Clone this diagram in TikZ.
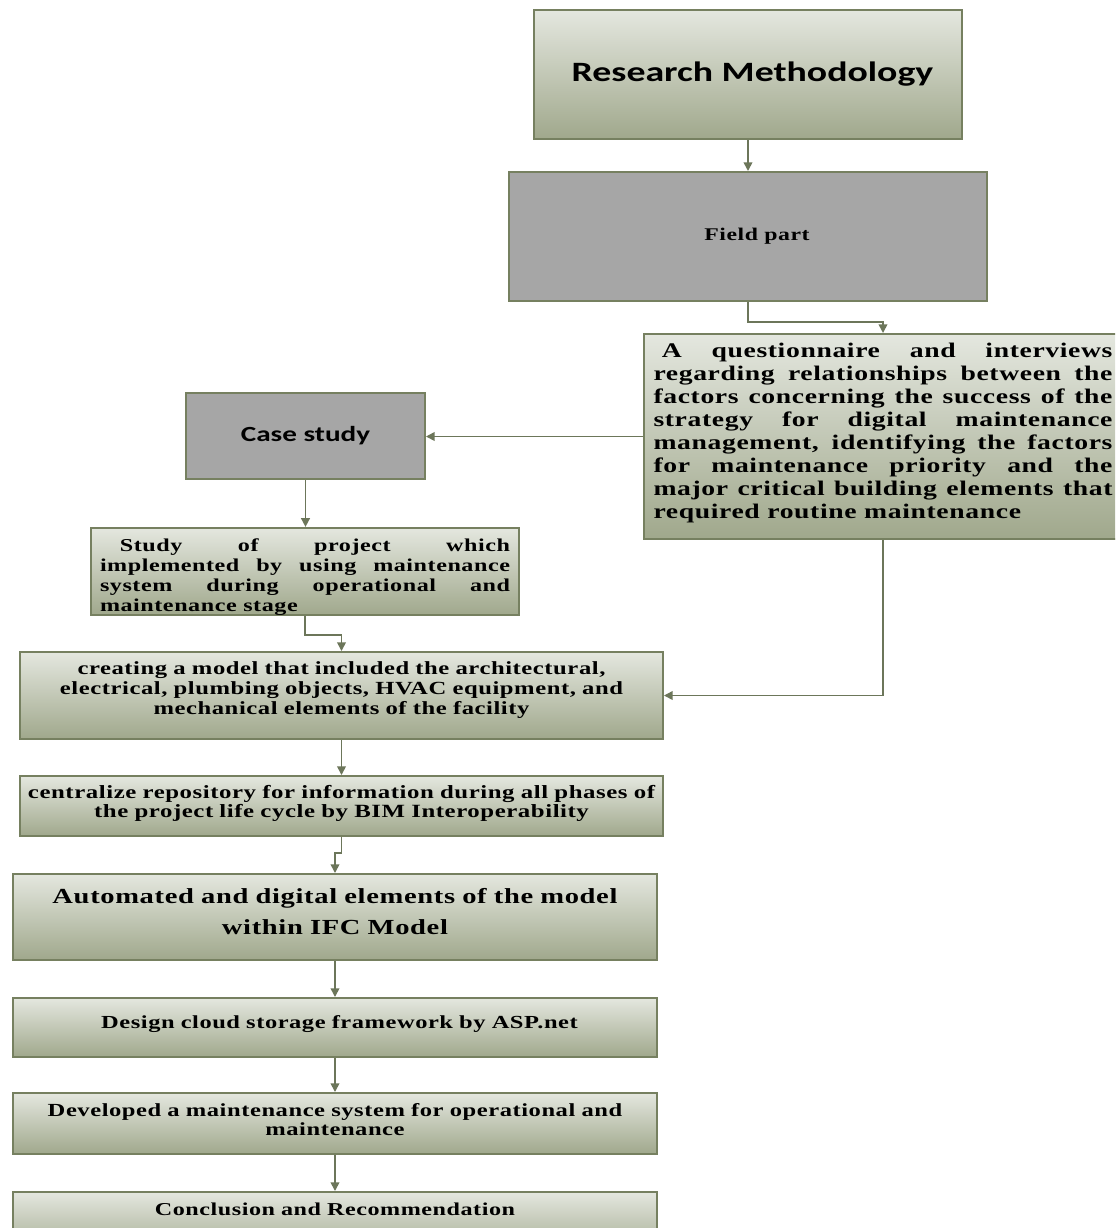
\documentclass[tikz,border=0pt]{standalone}
\usepackage{fontspec}
\setmainfont{Liberation Serif}[FakeStretch=1.33, LetterSpace=3]
\newfontfamily\titlesans{Carlito}[FakeStretch=1.35]
\usetikzlibrary{arrows.meta,calc}
\definecolor{bord}{RGB}{118,128,96}
\definecolor{arrc}{RGB}{108,118,90}
\definecolor{gtop}{RGB}{228,231,223}
\definecolor{gbot}{RGB}{160,168,140}
\definecolor{grayf}{RGB}{166,166,166}
\tikzset{
  x=0.75pt, y=-0.75pt,
  boxbase/.style={draw=bord, line width=1.5pt, inner sep=0pt, rectangle},
  gradbox/.style={boxbase, top color=gtop, bottom color=gbot},
  graybox/.style={boxbase, fill=grayf},
  arr/.style={draw=arrc, line width=1.2pt, -{Triangle[length=6.5pt,width=6.5pt]}},
}
% extra depth on the last line (lifts the text) / extra height on the first line (lowers it)
\newcommand{\deep}[1]{\rule[-#1]{0pt}{#1}}
\newcommand{\tall}[1]{\rule{0pt}{#1}}
\begin{document}
\begin{tikzpicture}
\clip (0,0) rectangle (1115,1228);
\fill[white] (0,0) rectangle (1115,1228);

\node[gradbox, minimum width=321pt, minimum height=96.75pt,
  font=\titlesans\bfseries\fontsize{21}{24}\selectfont] (rm) at (748,74.5)
  {\hspace*{6.75pt}Research Methodology};

\node[graybox, minimum width=358.5pt, minimum height=96.75pt,
  font=\bfseries\fontsize{13.4}{15}\selectfont] (fp) at (748,236.5)
  {\hspace*{13.5pt}Field part};

\node[gradbox, minimum width=358.5pt, minimum height=153.75pt, text width=344.25pt, align=justify,
  font=\bfseries\fontsize{15.6}{17.25}\selectfont] (q) at (883,436.5)
  {\hspace*{0.4em}A questionnaire and interviews\linebreak regarding relationships between the\linebreak factors concerning the success of the\linebreak strategy for digital maintenance\linebreak management, identifying the factors\linebreak for maintenance priority and the\linebreak major critical building elements that\linebreak required routine maintenance\deep{8pt}\par};

\node[graybox, minimum width=179.25pt, minimum height=64.5pt,
  font=\titlesans\bfseries\fontsize{16.2}{18}\selectfont] (cs) at (305.5,436)
  {Case study};

\node[gradbox, minimum width=321pt, minimum height=63.75pt, text width=307.5pt, align=justify,
  font=\bfseries\fontsize{13.6}{14.8}\selectfont] (st) at (305,571.5)
  {\tall{18pt}\hspace*{1.1em}Study of project which\linebreak implemented by using maintenance\linebreak system during operational and\linebreak maintenance stage\par};

\node[gradbox, minimum width=482.25pt, minimum height=65.25pt, text width=475pt, align=center,
  font=\bfseries\fontsize{13.9}{15}\selectfont] (cr) at (341.5,695.5)
  {creating a model that included the architectural,\\ electrical, plumbing objects, HVAC equipment, and\\ mechanical elements of the facility\deep{10.5pt}};

\node[gradbox, minimum width=482.25pt, minimum height=45pt, text width=475pt, align=center,
  font=\bfseries\fontsize{14}{14.25}\selectfont] (ce) at (341.5,806)
  {centralize repository for information during all phases of\\ the project life cycle by BIM Interoperability\deep{7.5pt}};

\node[gradbox, minimum width=483pt, minimum height=64.5pt, text width=475pt, align=center,
  font=\bfseries\fontsize{16.1}{23.25}\selectfont] (au) at (335,917)
  {Automated and digital elements of the model\\ within IFC Model\deep{9pt}};

\node[gradbox, minimum width=483pt, minimum height=44.25pt, text width=475pt, align=center,
  font=\bfseries\fontsize{13.8}{15}\selectfont] (de) at (335,1027.5)
  {\hspace*{6.75pt}Design cloud storage framework by ASP.net\deep{7.5pt}};

\node[gradbox, minimum width=483pt, minimum height=45.75pt, text width=475pt, align=center,
  font=\bfseries\fontsize{13.85}{14.3}\selectfont] (dv) at (335,1123.5)
  {Developed a maintenance system for operational and\\ maintenance\deep{6pt}};

\node[gradbox, minimum width=483pt, minimum height=48pt, text width=475pt, align=center,
  font=\bfseries\fontsize{13.6}{15}\selectfont] (co) at (335,1224)
  {Conclusion and Recommendation\deep{22.5pt}};

\draw[arr] (rm.south) -- (fp.north);
\draw[arr] (fp.south) -- ++(0,20) -| (q.north);
\draw[arr] (q.west) -- (q.west -| cs.east);
\draw[arr] (cs.south) -- (cs.south |- st.north);
\draw[arr] (st.south) -- ++(0,19) -| (cr.north);
\draw[arr] (q.south) |- (cr.east);
\draw[arr] (cr.south) -- (ce.north);
\draw[arr] (ce.south) -- ++(0,16) -| (au.north);
\draw[arr] (au.south) -- (de.north);
\draw[arr] (de.south) -- (dv.north);
\draw[arr] (dv.south) -- (co.north);
\end{tikzpicture}
\end{document}
